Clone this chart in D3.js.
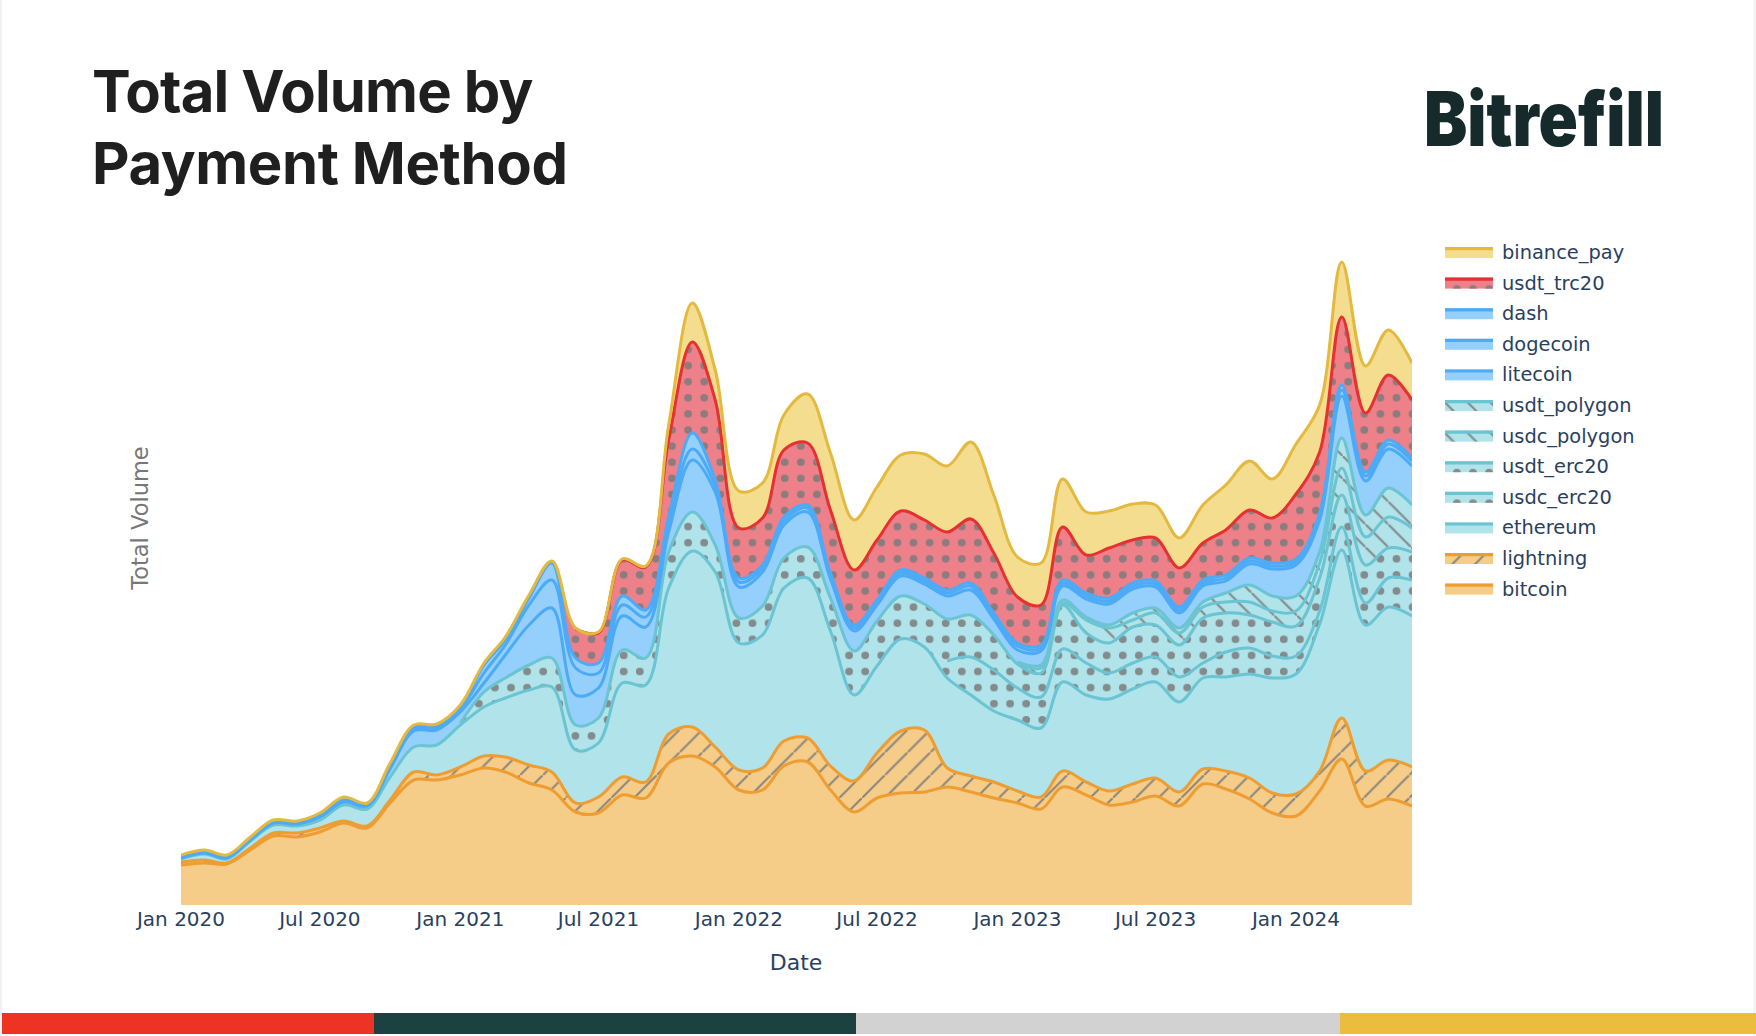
<!DOCTYPE html>
<html lang="en">
<head>
    <meta charset="UTF-8">
    <title>Total Volume by Payment Method</title>
    <script src="https://cdn.jsdelivr.net/npm/d3@7"></script>
    <style>
        html, body { margin: 0; padding: 0; background: #fff; }
        svg { display: block; }
        .tick text, .legend-label, .axis-title { font-family: "DejaVu Sans", Verdana, sans-serif; }
    </style>
</head>
<body>
    <div id="chart"></div>

    <script>
        // Values, monthly from Jan 2020 to Jun 2024 (no y ticks, so units are arbitrary)
        const bitcoin = [40,42,41,55,69,68,73,82,77,102,125,125,130,137,133,122,115,93,92,110,107,142,149,138,115,115,139,143,115,93,107,112,113,118,113,107,102,96,118,110,100,103,109,99,121,116,106,92,89,114,146,99,106,99];
        const lightning = [3,3,1,2,3,4,4,2,2,3,8,5,8,12,15,18,18,9,16,18,16,29,29,20,20,22,25,24,24,31,45,62,62,19,16,16,12,12,16,13,14,18,18,14,15,18,21,20,22,20,41,35,39,39];
        const ethereum = [3,6,4,7,8,7,8,16,17,23,25,30,42,49,59,75,85,53,54,94,97,146,176,175,127,133,153,160,135,86,87,92,83,90,81,71,71,69,89,87,92,95,96,90,91,94,104,115,120,147,168,146,153,151];
        const usdc_erc20 = [0,0,0,0,0,0,0,0,0,0,0,0,0,0,0,0,0,0,0,0,0,0,0,0,0,0,0,0,0,0,0,0,0,17,38,41,32,31,33,32,26,26,25,25,15,25,26,22,18,13,23,22,29,36];
        const usdt_erc20 = [0,0,0,0,0,0,0,0,0,0,0,0,2,15,20,25,29,25,25,33,27,36,39,27,25,29,30,31,33,44,45,43,43,42,42,35,24,24,44,30,30,36,32,32,45,39,33,34,30,33,32,38,30,28];
        const usdc_polygon = [0,0,0,0,0,0,0,0,0,0,0,0,0,0,0,0,0,0,0,0,0,0,0,0,0,0,0,0,0,0,0,0,0,0,0,0,1,5,2,13,15,7,12,12,11,11,13,11,15,15,27,28,31,24];
        const usdt_polygon = [0,0,0,0,0,0,0,0,0,0,0,0,0,0,0,0,0,0,0,0,0,0,0,0,0,0,0,0,0,0,0,0,0,0,0,0,1,3,3,3,3,7,5,5,5,9,17,15,15,11,30,22,29,23];
        const litecoin = [1,1,1,1,2,2,3,3,3,8,16,15,11,9,23,40,50,30,30,34,31,20,52,53,31,34,33,35,19,20,16,20,20,23,25,16,12,14,14,18,21,24,21,15,16,12,21,27,31,32,42,34,39,39];
        const dogecoin = [1,1,1,1,1,1,1,1,1,2,2,2,3,10,10,20,28,27,15,11,10,9,11,6,5,4,4,4,3,3,2,3,3,3,4,3,4,3,3,3,3,3,3,3,3,3,3,3,3,4,6,5,5,5];
        const dash = [1,1,1,1,1,1,1,1,1,2,2,2,2,8,5,7,17,10,10,9,7,6,16,6,4,3,4,3,3,3,3,3,3,3,3,3,3,3,3,3,3,3,3,3,3,3,3,3,3,3,5,4,4,3];
        const usdt_trc20 = [0,0,0,0,0,0,0,0,0,0,0,0,0,0,0,0,0,29,30,36,43,77,91,80,50,47,67,62,63,55,60,59,58,58,64,60,46,40,53,38,50,43,43,39,37,45,48,45,65,61,68,59,65,58];
        const binance_pay = [1,1,1,1,1,1,2,3,1,2,2,2,2,2,3,3,2,1,1,1,1,15,39,30,37,35,35,49,57,50,53,56,66,66,77,58,40,42,48,43,37,36,33,30,38,45,49,39,50,47,55,47,45,37];

        const tickLabels = ["Jan 2020","Jul 2020","Jan 2021","Jul 2021","Jan 2022","Jul 2022","Jan 2023","Jul 2023","Jan 2024"];
        const titleLines = ["Total Volume by", "Payment Method"];

        const W = 1756, H = 1036;
        const plot = { left: 181, right: 1412, top: 205, bottom: 905 };

        const months = d3.utcMonth.range(new Date(Date.UTC(2020, 0, 1)), new Date(Date.UTC(2024, 6, 1)));

        // bottom of the stack first
        const series = [
            { key: "bitcoin", values: bitcoin, stroke: "#ee9d32", fill: "#f6cd88", pattern: null },
            { key: "lightning", values: lightning, stroke: "#ee9d32", fill: "#f6cd88", pattern: "hatch" },
            { key: "ethereum", values: ethereum, stroke: "#6ac4d2", fill: "#b0e3ea", pattern: null },
            { key: "usdc_erc20", values: usdc_erc20, stroke: "#6ac4d2", fill: "#b0e3ea", pattern: "dots" },
            { key: "usdt_erc20", values: usdt_erc20, stroke: "#6ac4d2", fill: "#b0e3ea", pattern: "dots" },
            { key: "usdc_polygon", values: usdc_polygon, stroke: "#6ac4d2", fill: "#b0e3ea", pattern: "back" },
            { key: "usdt_polygon", values: usdt_polygon, stroke: "#6ac4d2", fill: "#b0e3ea", pattern: "back" },
            { key: "litecoin", values: litecoin, stroke: "#4caaf6", fill: "#94d0fb", pattern: null },
            { key: "dogecoin", values: dogecoin, stroke: "#4caaf6", fill: "#94d0fb", pattern: null },
            { key: "dash", values: dash, stroke: "#4caaf6", fill: "#94d0fb", pattern: null },
            { key: "usdt_trc20", values: usdt_trc20, stroke: "#e53130", fill: "#ee8089", pattern: "dots" },
            { key: "binance_pay", values: binance_pay, stroke: "#e3b93f", fill: "#f4dd8f", pattern: null }
        ];

        const table = months.map((date, i) => {
            const row = { date };
            series.forEach(s => { row[s.key] = s.values[i]; });
            return row;
        });

        const stacked = d3.stack().keys(series.map(s => s.key))(table);

        const x = d3.scaleUtc()
            .domain([months[0], months[months.length - 1]])
            .range([plot.left, plot.right]);

        const y = d3.scaleLinear()
            .domain([0, 700])
            .range([plot.bottom, plot.top]);

        const svg = d3.select("#chart").append("svg")
            .attr("width", W)
            .attr("height", H);

        svg.append("rect").attr("width", W).attr("height", H).attr("fill", "#fff");
        // grey slivers at the sides of the screenshot
        svg.append("rect").attr("x", 0).attr("width", 2).attr("height", H).attr("fill", "#f2f2f2");
        svg.append("rect").attr("x", 1753).attr("width", 3).attr("height", H).attr("fill", "#f5f5f5");

        // Patterns
        const defs = svg.append("defs");
        const dotStep = 16.1, hatchStep = 22.8, markColor = "#7c7c7c";

        defs.append("clipPath").attr("id", "plotClip").append("rect")
            .attr("x", plot.left).attr("y", plot.top - 10)
            .attr("width", plot.right - plot.left)
            .attr("height", plot.bottom - plot.top + 10);

        const dots = defs.append("pattern").attr("id", "dots")
            .attr("patternUnits", "userSpaceOnUse")
            .attr("width", dotStep).attr("height", dotStep)
            .attr("patternTransform", "translate(11.9,11.4)");
        [[0, 0], [dotStep, 0], [0, dotStep], [dotStep, dotStep]].forEach(p => {
            dots.append("circle").attr("cx", p[0]).attr("cy", p[1]).attr("r", 3.9)
                .attr("fill", markColor).attr("fill-opacity", 0.85);
        });

        defs.append("pattern").attr("id", "hatch")
            .attr("patternUnits", "userSpaceOnUse")
            .attr("width", hatchStep).attr("height", hatchStep)
            .attr("patternTransform", "translate(18.4,0)")
            .append("path")
            .attr("d", `M-2,${hatchStep + 2}L${hatchStep + 2},-2`)
            .attr("stroke", markColor).attr("stroke-width", 2.2).attr("stroke-opacity", 0.85);

        defs.append("pattern").attr("id", "back")
            .attr("patternUnits", "userSpaceOnUse")
            .attr("width", hatchStep).attr("height", hatchStep)
            .attr("patternTransform", "translate(20.3,0)")
            .append("path")
            .attr("d", `M-2,-2L${hatchStep + 2},${hatchStep + 2}`)
            .attr("stroke", markColor).attr("stroke-width", 2.2).attr("stroke-opacity", 0.85);

        // Title
        svg.append("g").selectAll("text")
            .data(titleLines)
            .join("text")
            .attr("x", 92)
            .attr("y", (d, i) => 112 + i * 72)
            .attr("font-family", "Inter, sans-serif")
            .attr("font-weight", 700)
            .attr("font-size", 58)
            .attr("letter-spacing", (d, i) => i === 0 ? -0.85 : -0.4)
            .attr("fill", "#1f1f1f")
            .text(d => d);

        // Logo text
        svg.append("text")
            .attr("x", 1424)
            .attr("y", 146)
            .attr("font-family", "Inter, sans-serif")
            .attr("font-weight", 900)
            .attr("font-size", 76)
            .attr("textLength", 240)
            .attr("lengthAdjust", "spacingAndGlyphs")
            .attr("fill", "#16292b")
            .text("Bitrefill");

        // Stacked areas
        const area = d3.area()
            .curve(d3.curveCatmullRom)
            .x(d => x(d.data.date))
            .y0(d => y(d[0]))
            .y1(d => y(d[1]));

        const topLine = d3.line()
            .curve(d3.curveCatmullRom)
            .x(d => x(d.data.date))
            .y(d => y(d[1]));

        const plotG = svg.append("g").attr("clip-path", "url(#plotClip)");
        const fillsG = plotG.append("g");
        const linesG = plotG.append("g");

        // fills go under every line, so the next layer does not cover half a stroke
        stacked.forEach((layer, k) => {
            const s = series[k];
            fillsG.append("path").attr("d", area(layer)).attr("fill", s.fill);
            if (s.pattern) {
                fillsG.append("path").attr("d", area(layer)).attr("fill", `url(#${s.pattern})`);
            }
            // no line where the series has not started yet
            const line = topLine.defined((d, i) => s.values[i] > 0);
            linesG.append("path")
                .attr("d", line(layer))
                .attr("fill", "none")
                .attr("stroke", s.stroke)
                .attr("stroke-width", 3)
                .attr("stroke-linejoin", "round");
        });

        // X axis
        const xAxis = d3.axisBottom(x)
            .tickValues(tickLabels.map(d3.utcParse("%b %Y")))
            .tickFormat(d3.utcFormat("%b %Y"))
            .tickSize(0)
            .tickPadding(7);

        const axisG = svg.append("g")
            .attr("transform", `translate(-0.5,${plot.bottom})`)
            .call(xAxis);
        axisG.select(".domain").remove();
        axisG.selectAll("text")
            .attr("font-size", 20)
            .attr("fill", "#2a3f5f");

        svg.append("text")
            .attr("class", "axis-title")
            .attr("x", 796)
            .attr("y", 970)
            .attr("text-anchor", "middle")
            .attr("font-size", 22)
            .attr("fill", "#2a3f5f")
            .text("Date");

        svg.append("text")
            .attr("class", "axis-title")
            .attr("transform", "translate(148,518) rotate(-90)")
            .attr("text-anchor", "middle")
            .attr("font-size", 22.5)
            .attr("fill", "#777")
            .text("Total Volume");

        // Legend, top of the stack first
        const legend = svg.append("g").selectAll("g")
            .data(series.slice().reverse())
            .join("g")
            .attr("transform", (d, i) => `translate(1445,${247 + i * 30.6})`);

        legend.append("rect").attr("width", 48).attr("height", 11).attr("fill", d => d.fill);
        legend.filter(d => d.pattern).append("rect")
            .attr("width", 48).attr("height", 11)
            .attr("fill", d => `url(#${d.pattern})`);
        legend.append("line")
            .attr("x2", 48)
            .attr("y1", 1.6).attr("y2", 1.6)
            .attr("stroke", d => d.stroke)
            .attr("stroke-width", 3.2);
        legend.append("text")
            .attr("class", "legend-label")
            .attr("x", 57)
            .attr("y", 12)
            .attr("font-size", 19.4)
            .attr("fill", "#2a3f5f")
            .text(d => d.key);

        // Colour bar along the bottom
        const barStops = [2, 374, 856, 1340, 1756];
        const barColors = ["#ed3424", "#1b4141", "#d2d2d2", "#ecbc3f"];
        svg.append("g").selectAll("rect")
            .data(barColors)
            .join("rect")
            .attr("x", (d, i) => barStops[i])
            .attr("y", 1013)
            .attr("width", (d, i) => barStops[i + 1] - barStops[i])
            .attr("height", 21)
            .attr("fill", d => d);
    </script>
</body>
</html>
